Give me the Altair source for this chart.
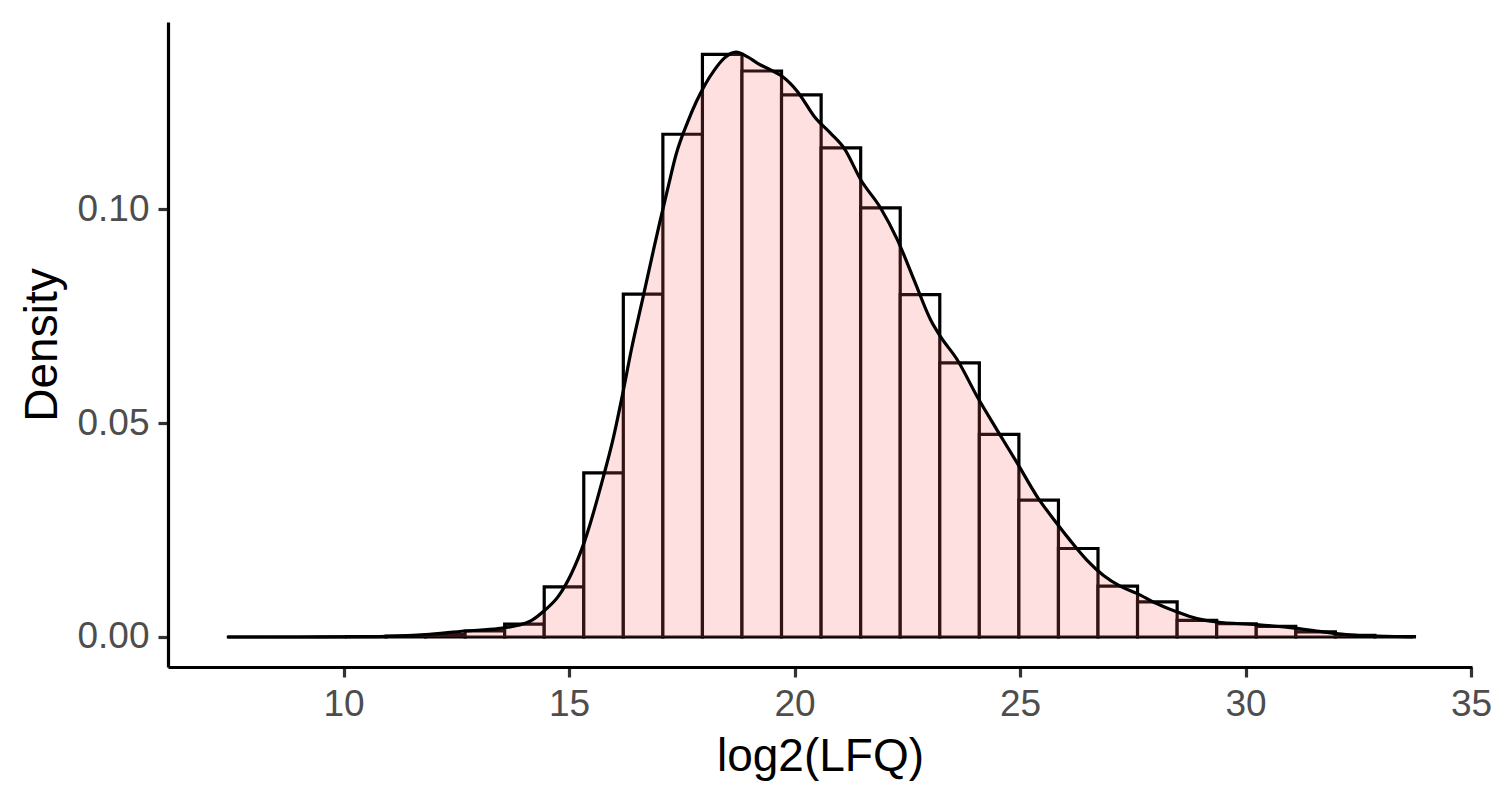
import altair as alt
import pandas as pd

# Histogram bins (log2(LFQ)) and their densities
bin_start = [7.431, 8.308, 9.185, 10.062, 10.939, 11.817, 12.694, 13.571, 14.448, 15.325,
             16.202, 17.079, 17.956, 18.833, 19.710, 20.588, 21.465, 22.342, 23.219, 24.096,
             24.973, 25.850, 26.727, 27.604, 28.482, 29.359, 30.236, 31.113, 31.990, 32.867]
bin_end = [8.308, 9.185, 10.062, 10.939, 11.817, 12.694, 13.571, 14.448, 15.325, 16.202,
           17.079, 17.956, 18.833, 19.710, 20.588, 21.465, 22.342, 23.219, 24.096, 24.973,
           25.850, 26.727, 27.604, 28.482, 29.359, 30.236, 31.113, 31.990, 32.867, 33.744]
bin_density = [0.0, 0.0, 0.0, 0.0001, 0.0002, 0.00056, 0.0014, 0.0030, 0.0117, 0.0384,
               0.0802, 0.1176, 0.1363, 0.1324, 0.1268, 0.1144, 0.1004, 0.0801, 0.0641, 0.0474,
               0.0320, 0.0207, 0.0119, 0.0082, 0.0039, 0.0031, 0.0025, 0.0012, 0.0004, 0.0001]

# Kernel density curve
curve_x = [7.41, 9.0, 10.77, 11.81, 12.69, 13.43, 13.87, 14.17, 14.46, 14.76,
           15.05, 15.35, 15.75, 15.97, 16.19, 16.38, 16.64, 16.86, 17.01, 17.19,
           17.37, 17.63, 17.82, 18.02, 18.22, 18.44, 18.70, 18.96, 19.18, 19.48,
           19.73, 20.07, 20.44, 20.80, 21.10, 21.47, 21.91, 22.28, 22.65, 23.02,
           23.24, 23.61, 24.05, 24.49, 24.94, 25.38, 25.82, 26.11, 26.48, 26.85,
           27.22, 27.59, 28.03, 28.47, 28.92, 29.36, 30.24, 31.13, 31.57, 32.01,
           32.46, 32.90, 33.71]
curve_y = [0.0, 0.0, 0.0001, 0.00056, 0.0014, 0.00197, 0.00274, 0.0039, 0.00625, 0.0095,
           0.0148, 0.0226, 0.0371, 0.0461, 0.0570, 0.0672, 0.0795, 0.0900, 0.0970, 0.1050,
           0.1128, 0.1205, 0.1252, 0.1293, 0.1326, 0.1354, 0.1368, 0.1357, 0.1342, 0.1326,
           0.1311, 0.1275, 0.1217, 0.1178, 0.1143, 0.1069, 0.1003, 0.0929, 0.0835, 0.0741,
           0.0702, 0.0648, 0.0562, 0.0484, 0.0406, 0.0328, 0.0265, 0.0226, 0.0180, 0.0144,
           0.0119, 0.0102, 0.0078, 0.0059, 0.0043, 0.0035, 0.0029, 0.0020, 0.0014, 0.0008,
           0.0004, 0.00023, 0.0]

x_ticks = [10, 15, 20, 25, 30, 35]
y_ticks = [0.0, 0.05, 0.10]

bars = pd.DataFrame({"start": bin_start, "end": bin_end, "density": bin_density})
curve = pd.DataFrame({"x": curve_x, "y": curve_y})

FONT = "Liberation Sans"
LW = 3.2
x_scale = alt.Scale(domain=[6.106, 35.02], nice=False, zero=False)
y_scale = alt.Scale(domain=[-0.00702, 0.14386], nice=False, zero=False)

x_axis = alt.Axis(title="log2(LFQ)", values=x_ticks, format="d", grid=False,
                  labelFlush=False, labelOverlap=False)
y_axis = alt.Axis(title="Density", values=y_ticks, format=".2f", grid=False,
                  labelFlush=False, labelOverlap=False)

hist = alt.Chart(bars).mark_rect(fill="white", stroke="black", strokeWidth=LW).encode(
    x=alt.X("start:Q", scale=x_scale, axis=x_axis),
    x2="end:Q",
    y=alt.Y("density:Q", scale=y_scale, axis=y_axis),
    y2=alt.datum(0),
)

area = alt.Chart(curve).mark_area(color="#FF6666", opacity=0.2, interpolate="monotone").encode(
    x=alt.X("x:Q", scale=x_scale),
    y=alt.Y("y:Q", scale=y_scale),
    y2=alt.datum(0),
)

line = alt.Chart(curve).mark_line(color="black", strokeWidth=LW, interpolate="monotone").encode(
    x=alt.X("x:Q", scale=x_scale),
    y=alt.Y("y:Q", scale=y_scale),
)

chart = alt.layer(hist, area, line).properties(
    width=1304,
    height=645,
    autosize=alt.AutoSizeParams(type="none"),
    padding={"left": 160, "top": 14, "right": 20, "bottom": 120},
    background="white",
).configure_view(stroke=None).configure_axis(
    domainColor="black",
    domainWidth=LW,
    tickColor="#333333",
    tickWidth=LW,
    tickSize=10,
    labelFont=FONT,
    labelFontSize=37,
    labelColor="#4D4D4D",
    labelPadding=9,
    titleFont=FONT,
    titleFontSize=46,
    titleFontWeight="normal",
    titleColor="black",
).configure_axisX(titlePadding=12).configure_axisY(titlePadding=10)

chart.save("out.html", embed_options={"renderer": "svg", "actions": False})
